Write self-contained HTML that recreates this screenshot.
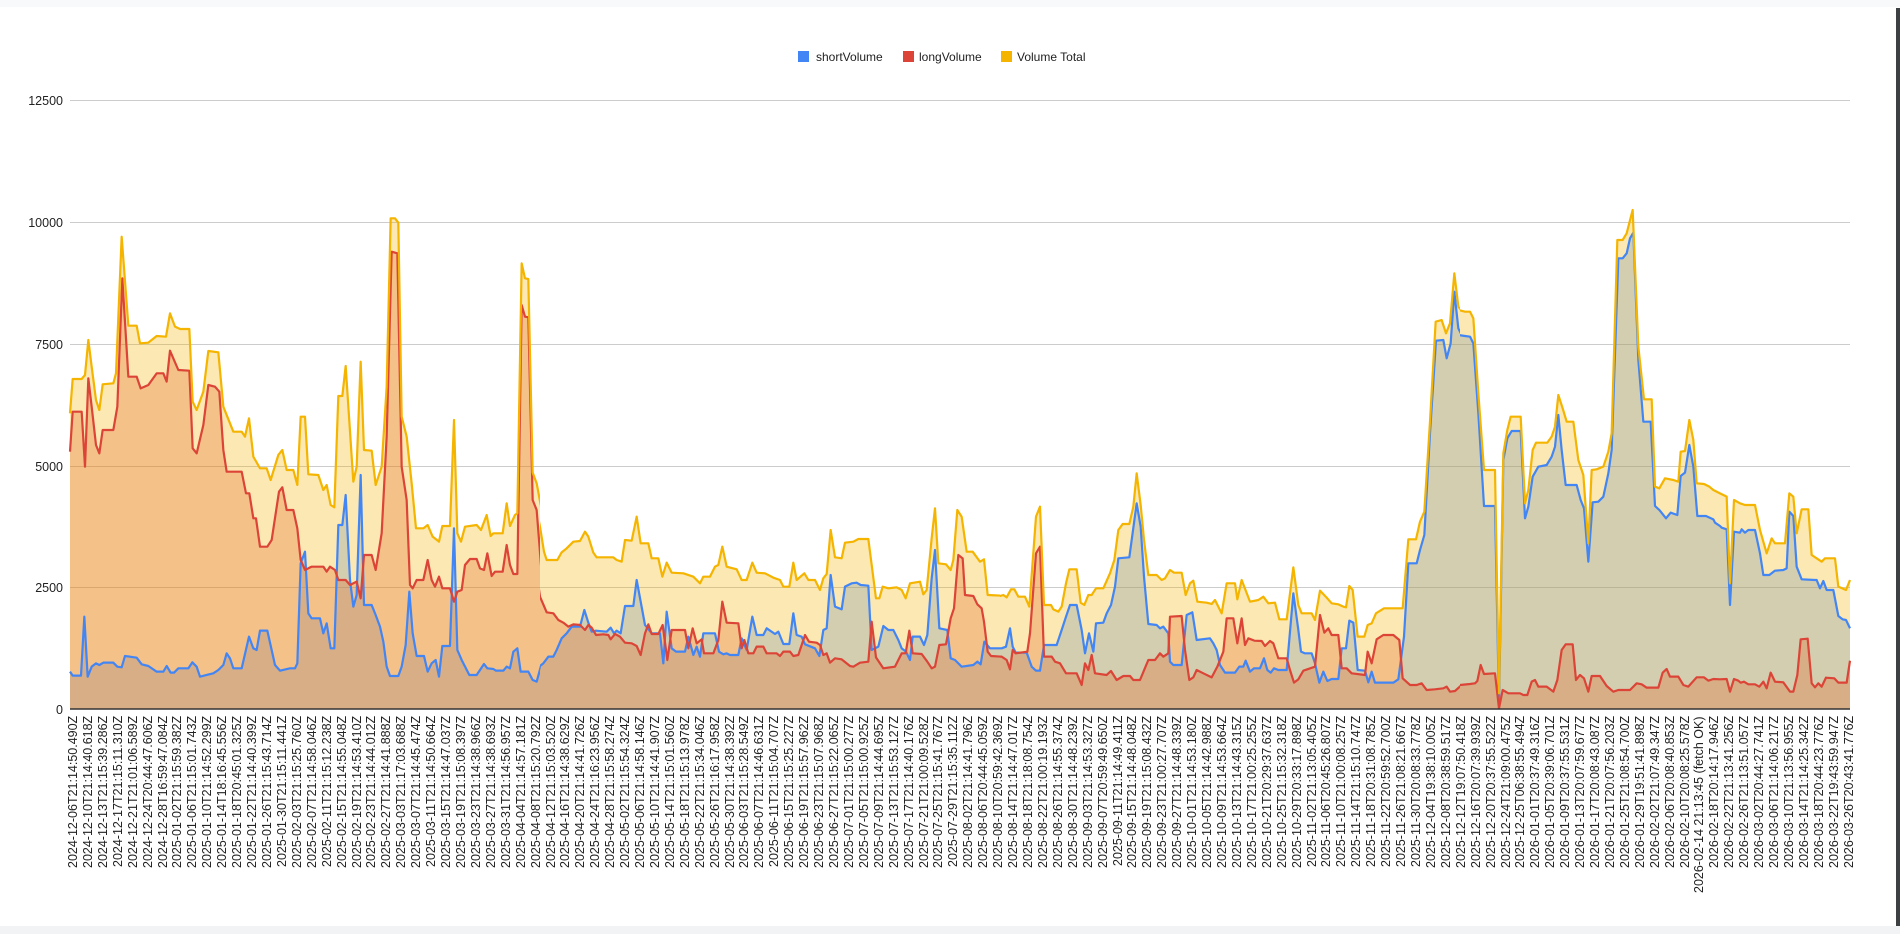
<!DOCTYPE html>
<html><head><meta charset="utf-8"><style>
html,body{margin:0;padding:0;background:#fff;width:1900px;height:934px;overflow:hidden;font-family:"Liberation Sans",Arial,sans-serif;}
#lab{position:absolute;left:66px;top:716px;width:1791px;height:200px;display:flex;justify-content:space-between;}
#lab div{width:14px;height:200px;writing-mode:vertical-rl;transform:rotate(180deg);text-align:end;font-size:12.5px;line-height:14px;color:#222;white-space:nowrap;}
</style></head><body>
<svg width="1900" height="934" style="position:absolute;left:0;top:0" xmlns="http://www.w3.org/2000/svg">
<defs>
<clipPath id="c3"><rect x="60" y="0" width="480" height="710"/></clipPath>
<clipPath id="c4"><rect x="540" y="0" width="460" height="710"/></clipPath>
<clipPath id="c5"><rect x="1000" y="0" width="460" height="710"/></clipPath>
<clipPath id="c6"><rect x="1460" y="0" width="391" height="710"/></clipPath>
</defs>
<rect x="0" y="0" width="1900" height="7" fill="#f8f9fa"/>
<rect x="0" y="926" width="1900" height="8" fill="#f1f3f4"/>
<rect x="1896" y="8" width="4" height="918" fill="#3c4043"/>
<g stroke="#cccccc" stroke-width="1">
<line x1="70" x2="1850" y1="100.5" y2="100.5"/><line x1="70" x2="1850" y1="222.5" y2="222.5"/>
<line x1="70" x2="1850" y1="344.5" y2="344.5"/><line x1="70" x2="1850" y1="466.5" y2="466.5"/>
<line x1="70" x2="1850" y1="587.5" y2="587.5"/></g>
<g font-size="12.5" fill="#222" text-anchor="end" font-family="Liberation Sans, sans-serif">
<text x="63" y="105">12500</text><text x="63" y="227">10000</text><text x="63" y="349">7500</text><text x="63" y="471">5000</text><text x="63" y="592">2500</text><text x="63" y="714">0</text></g>
<g font-size="12" fill="#222" font-family="Liberation Sans, sans-serif">
<rect x="798" y="51" width="11" height="11" fill="#4285f4"/><text x="816" y="61">shortVolume</text>
<rect x="903" y="51" width="11" height="11" fill="#db4437"/><text x="919" y="61">longVolume</text>
<rect x="1001" y="51" width="11" height="11" fill="#f4b400"/><text x="1017" y="61">Volume Total</text></g>

<!-- chunk 3 -->
<g clip-path="url(#c3)"><g transform="translate(60,200) scale(0.33333)">
<path fill="#4285f4" fill-opacity="0.3" d="M30,1527 L30,1415 38,1427 63,1427 73,1250 83,1430 95,1400 108,1390 118,1395 130,1388 160,1388 172,1400 185,1402 195,1368 230,1373 245,1393 265,1398 290,1415 310,1415 320,1398 332,1418 342,1418 355,1405 385,1405 397,1387 410,1400 420,1430 440,1425 460,1420 475,1410 490,1395 500,1360 510,1375 520,1405 545,1405 567,1310 580,1345 590,1350 600,1292 622,1292 645,1395 660,1412 690,1405 705,1405 712,1390 722,1090 735,1055 745,1240 755,1255 780,1255 790,1300 800,1270 812,1345 823,1345 835,975 847,975 857,885 870,1140 880,1220 890,1185 902,825 912,1215 935,1215 947,1245 960,1280 970,1325 980,1400 990,1428 1015,1428 1025,1400 1037,1335 1048,1175 1058,1300 1070,1368 1092,1368 1103,1415 1115,1390 1127,1380 1137,1430 1147,1338 1170,1338 1182,985 1192,1350 1205,1380 1228,1425 1250,1425 1272,1392 1282,1405 1300,1407 1308,1412 1330,1412 1340,1400 1350,1405 1360,1355 1372,1345 1382,1415 1405,1415 1418,1440 1430,1445 1445,1390 L1445,1527 Z"/>
<path fill="#db4437" fill-opacity="0.3" d="M30,1527 L30,755 38,635 65,635 75,800 85,535 95,620 108,735 118,760 128,690 160,690 172,620 187,235 205,530 230,530 242,565 265,555 290,520 310,520 320,545 330,452 355,510 388,512 398,745 410,760 430,675 445,555 465,560 478,575 490,750 500,815 545,815 558,880 568,880 580,955 588,955 600,1040 622,1040 635,1020 657,875 667,862 680,930 700,930 712,985 722,1080 735,1110 755,1100 790,1100 800,1115 810,1100 825,1110 835,1140 857,1140 870,1155 890,1145 902,1195 912,1065 935,1065 947,1110 965,1000 980,710 995,155 1012,160 1025,800 1040,900 1050,1155 1058,1165 1070,1140 1090,1140 1103,1080 1115,1140 1125,1160 1137,1130 1147,1165 1170,1165 1182,1205 1192,1175 1205,1170 1215,1095 1230,1077 1250,1077 1260,1105 1272,1110 1282,1060 1295,1128 1305,1115 1328,1115 1340,1035 1350,1095 1360,1122 1372,1122 1385,315 1395,350 1405,352 1418,900 1430,930 1445,1120 L1445,1527 Z"/>
<path fill="#f4b400" fill-opacity="0.3" d="M30,1527 L30,640 38,537 65,537 75,525 85,420 95,500 108,600 118,630 128,553 160,550 168,520 185,110 205,377 230,377 240,430 265,428 290,408 318,410 330,340 345,380 360,387 388,387 398,605 410,630 430,575 445,453 475,457 490,620 520,695 545,695 555,710 567,655 580,770 600,805 620,805 632,840 655,765 667,750 680,810 700,810 712,855 722,650 735,650 745,823 775,825 790,870 800,855 812,915 823,922 835,588 847,588 857,498 880,845 890,800 902,485 912,750 935,752 947,855 965,800 980,560 992,55 1005,55 1015,68 1025,650 1040,710 1055,850 1068,985 1090,985 1103,975 1118,1010 1137,1025 1147,978 1170,978 1182,660 1192,1000 1203,1025 1215,980 1250,975 1263,990 1280,945 1292,1008 1300,1000 1328,1000 1340,910 1350,978 1365,945 1372,940 1385,190 1395,235 1405,237 1418,818 1430,850 1445,930 L1445,1527 Z"/>
<g fill="none" stroke-width="2.2" vector-effect="non-scaling-stroke" stroke-linejoin="round">
<polyline vector-effect="non-scaling-stroke" stroke="#4285f4" points="30,1415 38,1427 63,1427 73,1250 83,1430 95,1400 108,1390 118,1395 130,1388 160,1388 172,1400 185,1402 195,1368 230,1373 245,1393 265,1398 290,1415 310,1415 320,1398 332,1418 342,1418 355,1405 385,1405 397,1387 410,1400 420,1430 440,1425 460,1420 475,1410 490,1395 500,1360 510,1375 520,1405 545,1405 567,1310 580,1345 590,1350 600,1292 622,1292 645,1395 660,1412 690,1405 705,1405 712,1390 722,1090 735,1055 745,1240 755,1255 780,1255 790,1300 800,1270 812,1345 823,1345 835,975 847,975 857,885 870,1140 880,1220 890,1185 902,825 912,1215 935,1215 947,1245 960,1280 970,1325 980,1400 990,1428 1015,1428 1025,1400 1037,1335 1048,1175 1058,1300 1070,1368 1092,1368 1103,1415 1115,1390 1127,1380 1137,1430 1147,1338 1170,1338 1182,985 1192,1350 1205,1380 1228,1425 1250,1425 1272,1392 1282,1405 1300,1407 1308,1412 1330,1412 1340,1400 1350,1405 1360,1355 1372,1345 1382,1415 1405,1415 1418,1440 1430,1445 1445,1390"/>
<polyline vector-effect="non-scaling-stroke" stroke="#db4437" points="30,755 38,635 65,635 75,800 85,535 95,620 108,735 118,760 128,690 160,690 172,620 187,235 205,530 230,530 242,565 265,555 290,520 310,520 320,545 330,452 355,510 388,512 398,745 410,760 430,675 445,555 465,560 478,575 490,750 500,815 545,815 558,880 568,880 580,955 588,955 600,1040 622,1040 635,1020 657,875 667,862 680,930 700,930 712,985 722,1080 735,1110 755,1100 790,1100 800,1115 810,1100 825,1110 835,1140 857,1140 870,1155 890,1145 902,1195 912,1065 935,1065 947,1110 965,1000 980,710 995,155 1012,160 1025,800 1040,900 1050,1155 1058,1165 1070,1140 1090,1140 1103,1080 1115,1140 1125,1160 1137,1130 1147,1165 1170,1165 1182,1205 1192,1175 1205,1170 1215,1095 1230,1077 1250,1077 1260,1105 1272,1110 1282,1060 1295,1128 1305,1115 1328,1115 1340,1035 1350,1095 1360,1122 1372,1122 1385,315 1395,350 1405,352 1418,900 1430,930 1445,1120"/>
<polyline vector-effect="non-scaling-stroke" stroke="#f4b400" points="30,640 38,537 65,537 75,525 85,420 95,500 108,600 118,630 128,553 160,550 168,520 185,110 205,377 230,377 240,430 265,428 290,408 318,410 330,340 345,380 360,387 388,387 398,605 410,630 430,575 445,453 475,457 490,620 520,695 545,695 555,710 567,655 580,770 600,805 620,805 632,840 655,765 667,750 680,810 700,810 712,855 722,650 735,650 745,823 775,825 790,870 800,855 812,915 823,922 835,588 847,588 857,498 880,845 890,800 902,485 912,750 935,752 947,855 965,800 980,560 992,55 1005,55 1015,68 1025,650 1040,710 1055,850 1068,985 1090,985 1103,975 1118,1010 1137,1025 1147,978 1170,978 1182,660 1192,1000 1203,1025 1215,980 1250,975 1263,990 1280,945 1292,1008 1300,1000 1328,1000 1340,910 1350,978 1365,945 1372,940 1385,190 1395,235 1405,237 1418,818 1430,850 1445,930"/>
</g></g></g>

<!-- chunk 4 -->
<g clip-path="url(#c4)"><g transform="translate(520,200) scale(0.33333)">
<path fill="#4285f4" fill-opacity="0.3" d="M50,1527 L50,1440 60,1398 70,1390 85,1370 100,1370 110,1350 125,1315 140,1300 155,1280 180,1280 193,1230 205,1268 215,1295 228,1292 260,1295 272,1283 282,1300 290,1292 302,1300 315,1218 340,1218 350,1140 375,1275 395,1300 420,1300 430,1390 440,1235 455,1345 468,1355 495,1355 505,1310 520,1365 530,1340 540,1370 550,1300 585,1300 597,1355 610,1363 620,1360 630,1365 655,1365 665,1315 680,1350 697,1250 710,1305 730,1305 740,1285 765,1302 775,1295 790,1332 808,1332 820,1240 830,1305 845,1310 855,1333 885,1345 898,1368 910,1290 920,1285 932,1125 945,1220 965,1228 975,1160 995,1150 1010,1148 1022,1155 1045,1157 1055,1350 1075,1340 1090,1278 1105,1290 1120,1290 1135,1320 1145,1345 1158,1355 1170,1380 1178,1310 1200,1310 1212,1335 1222,1305 1235,1135 1245,1050 1258,1285 1282,1290 1292,1375 1305,1380 1325,1400 1360,1395 1372,1385 1382,1393 1393,1325 1410,1345 1445,1345 L1445,1527 Z"/>
<path fill="#db4437" fill-opacity="0.3" d="M50,1527 L50,1120 60,1190 80,1237 100,1240 115,1260 130,1268 145,1280 160,1273 180,1275 195,1290 205,1275 215,1283 228,1305 250,1303 265,1305 272,1318 285,1302 300,1310 315,1328 335,1330 350,1338 362,1365 375,1300 385,1273 395,1302 415,1302 428,1275 442,1380 455,1290 495,1290 505,1345 518,1285 530,1330 545,1318 552,1360 580,1360 595,1320 607,1205 620,1268 655,1270 665,1345 673,1320 685,1360 700,1360 710,1340 730,1340 740,1360 770,1360 780,1368 790,1355 810,1355 820,1368 835,1365 855,1305 867,1325 890,1328 900,1335 910,1365 920,1360 930,1388 945,1375 965,1378 990,1398 1000,1400 1020,1388 1045,1385 1055,1265 1068,1372 1090,1405 1125,1400 1145,1360 1157,1360 1168,1292 1178,1360 1205,1362 1222,1385 1235,1405 1245,1400 1258,1335 1278,1333 1292,1255 1302,1225 1315,1065 1328,1075 1335,1185 1360,1188 1372,1213 1385,1225 1392,1265 1403,1355 1413,1368 1445,1370 L1445,1527 Z"/>
<path fill="#f4b400" fill-opacity="0.3" d="M50,1527 L50,930 60,980 72,1055 80,1080 112,1080 125,1057 140,1045 160,1025 180,1023 195,995 205,1010 220,1058 230,1072 280,1072 290,1080 305,1085 315,1020 335,1022 350,950 362,1030 385,1030 395,1075 415,1075 427,1130 440,1088 455,1118 490,1120 520,1130 540,1150 550,1130 570,1130 585,1100 595,1095 607,1040 620,1100 650,1108 665,1140 680,1140 697,1088 710,1118 735,1120 760,1133 780,1140 790,1160 808,1160 820,1088 830,1140 853,1120 865,1140 885,1140 900,1170 910,1135 920,1122 932,990 945,1072 965,1075 975,1028 1000,1025 1015,1017 1045,1017 1068,1195 1078,1195 1088,1160 1105,1165 1130,1162 1145,1170 1157,1195 1170,1150 1200,1145 1210,1183 1220,1170 1235,1015 1245,925 1255,1090 1278,1093 1292,1110 1300,1080 1312,930 1325,950 1340,1055 1358,1055 1380,1085 1392,1078 1403,1185 1445,1187 L1445,1527 Z"/>
<g fill="none" stroke-width="2.2" stroke-linejoin="round">
<polyline vector-effect="non-scaling-stroke" stroke="#4285f4" points="50,1440 60,1398 70,1390 85,1370 100,1370 110,1350 125,1315 140,1300 155,1280 180,1280 193,1230 205,1268 215,1295 228,1292 260,1295 272,1283 282,1300 290,1292 302,1300 315,1218 340,1218 350,1140 375,1275 395,1300 420,1300 430,1390 440,1235 455,1345 468,1355 495,1355 505,1310 520,1365 530,1340 540,1370 550,1300 585,1300 597,1355 610,1363 620,1360 630,1365 655,1365 665,1315 680,1350 697,1250 710,1305 730,1305 740,1285 765,1302 775,1295 790,1332 808,1332 820,1240 830,1305 845,1310 855,1333 885,1345 898,1368 910,1290 920,1285 932,1125 945,1220 965,1228 975,1160 995,1150 1010,1148 1022,1155 1045,1157 1055,1350 1075,1340 1090,1278 1105,1290 1120,1290 1135,1320 1145,1345 1158,1355 1170,1380 1178,1310 1200,1310 1212,1335 1222,1305 1235,1135 1245,1050 1258,1285 1282,1290 1292,1375 1305,1380 1325,1400 1360,1395 1372,1385 1382,1393 1393,1325 1410,1345 1445,1345"/>
<polyline vector-effect="non-scaling-stroke" stroke="#db4437" points="50,1120 60,1190 80,1237 100,1240 115,1260 130,1268 145,1280 160,1273 180,1275 195,1290 205,1275 215,1283 228,1305 250,1303 265,1305 272,1318 285,1302 300,1310 315,1328 335,1330 350,1338 362,1365 375,1300 385,1273 395,1302 415,1302 428,1275 442,1380 455,1290 495,1290 505,1345 518,1285 530,1330 545,1318 552,1360 580,1360 595,1320 607,1205 620,1268 655,1270 665,1345 673,1320 685,1360 700,1360 710,1340 730,1340 740,1360 770,1360 780,1368 790,1355 810,1355 820,1368 835,1365 855,1305 867,1325 890,1328 900,1335 910,1365 920,1360 930,1388 945,1375 965,1378 990,1398 1000,1400 1020,1388 1045,1385 1055,1265 1068,1372 1090,1405 1125,1400 1145,1360 1157,1360 1168,1292 1178,1360 1205,1362 1222,1385 1235,1405 1245,1400 1258,1335 1278,1333 1292,1255 1302,1225 1315,1065 1328,1075 1335,1185 1360,1188 1372,1213 1385,1225 1392,1265 1403,1355 1413,1368 1445,1370"/>
<polyline vector-effect="non-scaling-stroke" stroke="#f4b400" points="50,930 60,980 72,1055 80,1080 112,1080 125,1057 140,1045 160,1025 180,1023 195,995 205,1010 220,1058 230,1072 280,1072 290,1080 305,1085 315,1020 335,1022 350,950 362,1030 385,1030 395,1075 415,1075 427,1130 440,1088 455,1118 490,1120 520,1130 540,1150 550,1130 570,1130 585,1100 595,1095 607,1040 620,1100 650,1108 665,1140 680,1140 697,1088 710,1118 735,1120 760,1133 780,1140 790,1160 808,1160 820,1088 830,1140 853,1120 865,1140 885,1140 900,1170 910,1135 920,1122 932,990 945,1072 965,1075 975,1028 1000,1025 1015,1017 1045,1017 1068,1195 1078,1195 1088,1160 1105,1165 1130,1162 1145,1170 1157,1195 1170,1150 1200,1145 1210,1183 1220,1170 1235,1015 1245,925 1255,1090 1278,1093 1292,1110 1300,1080 1312,930 1325,950 1340,1055 1358,1055 1380,1085 1392,1078 1403,1185 1445,1187"/>
</g></g></g>

<!-- chunk 5 -->
<g clip-path="url(#c5)"><g transform="translate(980,200) scale(0.33333)">
<path fill="#4285f4" fill-opacity="0.3" d="M0,1527 L0,1395 12,1325 22,1360 35,1345 65,1345 78,1340 90,1285 98,1340 107,1358 140,1358 155,1400 168,1412 180,1412 192,1335 230,1335 245,1290 258,1250 270,1215 290,1215 305,1290 315,1360 327,1300 340,1355 348,1270 370,1268 380,1240 393,1215 405,1160 415,1075 448,1072 470,910 482,980 492,1130 505,1272 530,1275 540,1285 550,1280 565,1300 570,1385 580,1395 605,1395 620,1245 637,1237 650,1320 690,1315 700,1330 710,1350 720,1395 735,1418 765,1418 778,1400 790,1400 797,1382 810,1415 822,1405 840,1405 852,1375 862,1410 872,1418 882,1405 895,1410 920,1410 940,1180 955,1290 963,1355 975,1360 995,1360 1005,1390 1018,1448 1030,1415 1042,1443 1055,1437 1075,1437 1085,1345 1098,1345 1108,1262 1120,1268 1133,1410 1155,1412 1165,1447 1175,1415 1185,1448 1240,1448 1255,1438 1272,1310 1285,1090 1310,1090 1320,1050 1333,1005 1350,700 1368,422 1390,420 1400,475 1412,430 1423,275 1435,385 1445,405 L1445,1527 Z"/>
<path fill="#db4437" fill-opacity="0.3" d="M0,1527 L0,1220 12,1290 22,1355 35,1370 65,1370 80,1380 90,1408 98,1350 107,1360 142,1355 150,1300 168,1060 180,1040 192,1370 215,1370 225,1385 240,1390 258,1420 290,1420 305,1455 315,1390 325,1410 335,1365 345,1420 380,1425 393,1413 410,1440 430,1428 450,1428 460,1440 480,1440 505,1380 525,1380 540,1360 550,1370 565,1360 570,1250 605,1248 615,1350 628,1440 640,1432 650,1410 670,1420 695,1432 712,1400 730,1355 740,1255 760,1255 772,1330 785,1255 795,1335 805,1315 823,1322 845,1323 855,1338 870,1323 880,1330 895,1375 920,1375 930,1410 942,1448 955,1438 970,1412 1005,1400 1020,1245 1033,1298 1045,1285 1055,1305 1075,1305 1085,1405 1100,1405 1115,1420 1155,1425 1163,1355 1175,1390 1190,1318 1210,1305 1240,1305 1258,1320 1268,1435 1290,1455 1310,1455 1325,1450 1340,1470 1365,1468 1390,1465 1400,1460 1410,1475 1425,1473 1445,1455 L1445,1527 Z"/>
<path fill="#f4b400" fill-opacity="0.3" d="M0,1527 L0,1085 12,1078 22,1188 60,1188 70,1185 80,1192 93,1168 103,1168 115,1190 135,1190 148,1220 168,950 180,920 192,1215 213,1215 220,1228 235,1235 245,1220 258,1150 268,1108 290,1108 302,1208 313,1215 325,1185 335,1185 348,1165 370,1165 390,1120 403,1080 415,990 428,972 448,972 460,920 470,820 482,915 492,1020 505,1125 530,1125 545,1140 555,1135 570,1110 582,1118 605,1118 617,1185 630,1150 640,1142 652,1205 680,1208 695,1212 705,1200 725,1240 740,1150 765,1150 772,1198 785,1140 810,1205 835,1200 850,1190 865,1210 885,1208 898,1258 920,1258 940,1102 955,1215 965,1240 995,1240 1005,1260 1020,1172 1040,1193 1055,1210 1075,1213 1090,1220 1098,1222 1108,1158 1118,1170 1133,1310 1153,1310 1163,1275 1175,1270 1188,1240 1212,1225 1268,1225 1285,1018 1308,1018 1320,965 1333,935 1350,665 1367,365 1385,360 1398,400 1410,370 1423,220 1435,320 1445,332 L1445,1527 Z"/>
<g fill="none" stroke-width="2.2" stroke-linejoin="round">
<polyline vector-effect="non-scaling-stroke" stroke="#4285f4" points="0,1395 12,1325 22,1360 35,1345 65,1345 78,1340 90,1285 98,1340 107,1358 140,1358 155,1400 168,1412 180,1412 192,1335 230,1335 245,1290 258,1250 270,1215 290,1215 305,1290 315,1360 327,1300 340,1355 348,1270 370,1268 380,1240 393,1215 405,1160 415,1075 448,1072 470,910 482,980 492,1130 505,1272 530,1275 540,1285 550,1280 565,1300 570,1385 580,1395 605,1395 620,1245 637,1237 650,1320 690,1315 700,1330 710,1350 720,1395 735,1418 765,1418 778,1400 790,1400 797,1382 810,1415 822,1405 840,1405 852,1375 862,1410 872,1418 882,1405 895,1410 920,1410 940,1180 955,1290 963,1355 975,1360 995,1360 1005,1390 1018,1448 1030,1415 1042,1443 1055,1437 1075,1437 1085,1345 1098,1345 1108,1262 1120,1268 1133,1410 1155,1412 1165,1447 1175,1415 1185,1448 1240,1448 1255,1438 1272,1310 1285,1090 1310,1090 1320,1050 1333,1005 1350,700 1368,422 1390,420 1400,475 1412,430 1423,275 1435,385 1445,405"/>
<polyline vector-effect="non-scaling-stroke" stroke="#db4437" points="0,1220 12,1290 22,1355 35,1370 65,1370 80,1380 90,1408 98,1350 107,1360 142,1355 150,1300 168,1060 180,1040 192,1370 215,1370 225,1385 240,1390 258,1420 290,1420 305,1455 315,1390 325,1410 335,1365 345,1420 380,1425 393,1413 410,1440 430,1428 450,1428 460,1440 480,1440 505,1380 525,1380 540,1360 550,1370 565,1360 570,1250 605,1248 615,1350 628,1440 640,1432 650,1410 670,1420 695,1432 712,1400 730,1355 740,1255 760,1255 772,1330 785,1255 795,1335 805,1315 823,1322 845,1323 855,1338 870,1323 880,1330 895,1375 920,1375 930,1410 942,1448 955,1438 970,1412 1005,1400 1020,1245 1033,1298 1045,1285 1055,1305 1075,1305 1085,1405 1100,1405 1115,1420 1155,1425 1163,1355 1175,1390 1190,1318 1210,1305 1240,1305 1258,1320 1268,1435 1290,1455 1310,1455 1325,1450 1340,1470 1365,1468 1390,1465 1400,1460 1410,1475 1425,1473 1445,1455"/>
<polyline vector-effect="non-scaling-stroke" stroke="#f4b400" points="0,1085 12,1078 22,1188 60,1188 70,1185 80,1192 93,1168 103,1168 115,1190 135,1190 148,1220 168,950 180,920 192,1215 213,1215 220,1228 235,1235 245,1220 258,1150 268,1108 290,1108 302,1208 313,1215 325,1185 335,1185 348,1165 370,1165 390,1120 403,1080 415,990 428,972 448,972 460,920 470,820 482,915 492,1020 505,1125 530,1125 545,1140 555,1135 570,1110 582,1118 605,1118 617,1185 630,1150 640,1142 652,1205 680,1208 695,1212 705,1200 725,1240 740,1150 765,1150 772,1198 785,1140 810,1205 835,1200 850,1190 865,1210 885,1208 898,1258 920,1258 940,1102 955,1215 965,1240 995,1240 1005,1260 1020,1172 1040,1193 1055,1210 1075,1213 1090,1220 1098,1222 1108,1158 1118,1170 1133,1310 1153,1310 1163,1275 1175,1270 1188,1240 1212,1225 1268,1225 1285,1018 1308,1018 1320,965 1333,935 1350,665 1367,365 1385,360 1398,400 1410,370 1423,220 1435,320 1445,332"/>
</g></g></g>

<!-- chunk 6 -->
<g clip-path="url(#c6)"><g transform="translate(1420,200) scale(0.33333)">
<path fill="#4285f4" fill-opacity="0.3" d="M115,1527 L115,405 135,408 150,410 160,430 175,640 192,918 225,918 237,1515 250,780 262,715 275,693 302,693 315,955 325,920 338,830 355,800 380,795 395,770 405,740 415,645 425,750 437,855 470,855 482,900 492,925 505,1085 518,907 535,905 550,890 565,820 575,750 595,175 608,175 620,160 630,115 640,98 655,480 670,665 692,665 705,918 718,930 738,955 752,938 772,945 782,828 795,818 808,735 820,800 832,948 858,948 880,958 885,968 900,978 905,983 920,988 930,1215 942,995 960,998 965,988 975,998 985,990 1005,990 1020,1060 1030,1125 1048,1125 1065,1112 1090,1110 1100,1105 1108,935 1120,948 1130,1100 1145,1138 1185,1140 1190,1140 1200,1165 1210,1143 1220,1170 1240,1170 1255,1248 1268,1258 1278,1260 1290,1285 L1290,1527 Z"/>
<path fill="#db4437" fill-opacity="0.3" d="M0,1527 L0,1465 30,1470 70,1465 80,1460 90,1475 100,1475 120,1455 150,1452 165,1450 172,1443 182,1395 192,1422 225,1420 237,1525 248,1470 265,1480 300,1480 310,1485 322,1485 335,1445 345,1440 355,1460 380,1460 400,1475 412,1440 425,1350 437,1333 458,1333 468,1440 480,1425 492,1435 505,1475 515,1428 540,1428 560,1458 580,1475 595,1470 630,1470 650,1450 665,1453 680,1463 715,1463 728,1418 740,1407 750,1430 775,1430 790,1455 805,1460 830,1432 852,1432 865,1442 880,1437 900,1438 920,1437 930,1475 942,1437 955,1442 962,1448 972,1445 985,1453 1005,1453 1018,1460 1030,1445 1040,1465 1052,1418 1065,1445 1090,1447 1110,1475 1120,1475 1132,1425 1142,1318 1163,1316 1175,1450 1185,1462 1195,1450 1205,1460 1218,1433 1243,1435 1255,1448 1280,1448 1290,1382 L1290,1527 Z"/>
<path fill="#f4b400" fill-opacity="0.3" d="M115,1527 L115,330 135,335 150,335 160,355 175,580 192,810 225,810 237,1480 250,760 262,690 272,650 302,650 315,910 325,870 338,750 348,728 382,728 395,710 405,680 415,585 428,625 440,665 460,665 475,780 490,825 505,1030 515,810 530,808 550,800 565,755 575,700 592,120 608,120 620,100 638,30 655,440 672,598 695,598 705,860 718,865 735,835 760,840 775,845 782,755 795,753 808,660 820,720 830,850 852,852 868,860 880,870 900,880 920,890 930,1150 942,900 960,910 975,915 1005,915 1020,990 1040,1060 1055,1015 1065,1030 1095,1030 1108,880 1120,890 1130,1000 1145,928 1165,928 1175,1065 1190,1075 1205,1085 1215,1075 1245,1075 1255,1160 1278,1170 1290,1140 L1290,1527 Z"/>
<g fill="none" stroke-width="2.2" stroke-linejoin="round">
<polyline vector-effect="non-scaling-stroke" stroke="#4285f4" points="115,405 135,408 150,410 160,430 175,640 192,918 225,918 237,1515 250,780 262,715 275,693 302,693 315,955 325,920 338,830 355,800 380,795 395,770 405,740 415,645 425,750 437,855 470,855 482,900 492,925 505,1085 518,907 535,905 550,890 565,820 575,750 595,175 608,175 620,160 630,115 640,98 655,480 670,665 692,665 705,918 718,930 738,955 752,938 772,945 782,828 795,818 808,735 820,800 832,948 858,948 880,958 885,968 900,978 905,983 920,988 930,1215 942,995 960,998 965,988 975,998 985,990 1005,990 1020,1060 1030,1125 1048,1125 1065,1112 1090,1110 1100,1105 1108,935 1120,948 1130,1100 1145,1138 1185,1140 1190,1140 1200,1165 1210,1143 1220,1170 1240,1170 1255,1248 1268,1258 1278,1260 1290,1285"/>
<polyline vector-effect="non-scaling-stroke" stroke="#db4437" points="0,1465 30,1470 70,1465 80,1460 90,1475 100,1475 120,1455 150,1452 165,1450 172,1443 182,1395 192,1422 225,1420 237,1525 248,1470 265,1480 300,1480 310,1485 322,1485 335,1445 345,1440 355,1460 380,1460 400,1475 412,1440 425,1350 437,1333 458,1333 468,1440 480,1425 492,1435 505,1475 515,1428 540,1428 560,1458 580,1475 595,1470 630,1470 650,1450 665,1453 680,1463 715,1463 728,1418 740,1407 750,1430 775,1430 790,1455 805,1460 830,1432 852,1432 865,1442 880,1437 900,1438 920,1437 930,1475 942,1437 955,1442 962,1448 972,1445 985,1453 1005,1453 1018,1460 1030,1445 1040,1465 1052,1418 1065,1445 1090,1447 1110,1475 1120,1475 1132,1425 1142,1318 1163,1316 1175,1450 1185,1462 1195,1450 1205,1460 1218,1433 1243,1435 1255,1448 1280,1448 1290,1382"/>
<polyline vector-effect="non-scaling-stroke" stroke="#f4b400" points="115,330 135,335 150,335 160,355 175,580 192,810 225,810 237,1480 250,760 262,690 272,650 302,650 315,910 325,870 338,750 348,728 382,728 395,710 405,680 415,585 428,625 440,665 460,665 475,780 490,825 505,1030 515,810 530,808 550,800 565,755 575,700 592,120 608,120 620,100 638,30 655,440 672,598 695,598 705,860 718,865 735,835 760,840 775,845 782,755 795,753 808,660 820,720 830,850 852,852 868,860 880,870 900,880 920,890 930,1150 942,900 960,910 975,915 1005,915 1020,990 1040,1060 1055,1015 1065,1030 1095,1030 1108,880 1120,890 1130,1000 1145,928 1165,928 1175,1065 1190,1075 1205,1085 1215,1075 1245,1075 1255,1160 1278,1170 1290,1140"/>
</g></g></g>
<line x1="70" x2="1850" y1="709" y2="709" stroke="#333" stroke-width="1.5"/>
</svg>
<div id="lab">
<div>2024-12-06T21:14:50.490Z</div><div>2024-12-10T21:14:40.618Z</div><div>2024-12-13T21:15:39.286Z</div><div>2024-12-17T21:15:11.310Z</div><div>2024-12-21T21:01:06.589Z</div><div>2024-12-24T20:44:47.606Z</div><div>2024-12-28T16:59:47.084Z</div><div>2025-01-02T21:15:59.382Z</div><div>2025-01-06T21:15:01.743Z</div><div>2025-01-10T21:14:52.299Z</div><div>2025-01-14T18:16:45.556Z</div><div>2025-01-18T20:45:01.325Z</div><div>2025-01-22T21:14:40.399Z</div><div>2025-01-26T21:15:43.714Z</div><div>2025-01-30T21:15:11.441Z</div><div>2025-02-03T21:15:25.760Z</div><div>2025-02-07T21:14:58.046Z</div><div>2025-02-11T21:15:12.238Z</div><div>2025-02-15T21:14:55.048Z</div><div>2025-02-19T21:14:53.410Z</div><div>2025-02-23T21:14:44.012Z</div><div>2025-02-27T21:14:41.888Z</div><div>2025-03-03T21:17:03.688Z</div><div>2025-03-07T21:14:45.474Z</div><div>2025-03-11T21:14:50.664Z</div><div>2025-03-15T21:14:47.037Z</div><div>2025-03-19T21:15:08.397Z</div><div>2025-03-23T21:14:38.966Z</div><div>2025-03-27T21:14:38.693Z</div><div>2025-03-31T21:14:56.957Z</div><div>2025-04-04T21:14:57.181Z</div><div>2025-04-08T21:15:20.792Z</div><div>2025-04-12T21:15:03.520Z</div><div>2025-04-16T21:14:38.629Z</div><div>2025-04-20T21:14:41.726Z</div><div>2025-04-24T21:16:23.956Z</div><div>2025-04-28T21:15:58.274Z</div><div>2025-05-02T21:15:54.324Z</div><div>2025-05-06T21:14:58.146Z</div><div>2025-05-10T21:14:41.907Z</div><div>2025-05-14T21:15:01.560Z</div><div>2025-05-18T21:15:13.978Z</div><div>2025-05-22T21:15:34.046Z</div><div>2025-05-26T21:16:17.958Z</div><div>2025-05-30T21:14:38.392Z</div><div>2025-06-03T21:15:28.549Z</div><div>2025-06-07T21:14:46.631Z</div><div>2025-06-11T21:15:04.707Z</div><div>2025-06-15T21:15:25.227Z</div><div>2025-06-19T21:15:57.962Z</div><div>2025-06-23T21:15:07.968Z</div><div>2025-06-27T21:15:22.065Z</div><div>2025-07-01T21:15:00.277Z</div><div>2025-07-05T21:15:00.925Z</div><div>2025-07-09T21:14:44.695Z</div><div>2025-07-13T21:15:53.127Z</div><div>2025-07-17T21:14:40.176Z</div><div>2025-07-21T21:00:09.528Z</div><div>2025-07-25T21:15:41.767Z</div><div>2025-07-29T21:15:35.112Z</div><div>2025-08-02T21:14:41.796Z</div><div>2025-08-06T20:44:45.059Z</div><div>2025-08-10T20:59:42.369Z</div><div>2025-08-14T21:14:47.017Z</div><div>2025-08-18T21:18:08.754Z</div><div>2025-08-22T21:00:19.193Z</div><div>2025-08-26T21:14:55.374Z</div><div>2025-08-30T21:14:48.239Z</div><div>2025-09-03T21:14:53.327Z</div><div>2025-09-07T20:59:49.650Z</div><div>2025-09-11T21:14:49.411Z</div><div>2025-09-15T21:14:48.048Z</div><div>2025-09-19T21:15:08.432Z</div><div>2025-09-23T21:00:27.707Z</div><div>2025-09-27T21:14:48.339Z</div><div>2025-10-01T21:14:53.180Z</div><div>2025-10-05T21:14:42.988Z</div><div>2025-10-09T21:14:53.664Z</div><div>2025-10-13T21:14:43.315Z</div><div>2025-10-17T21:00:25.255Z</div><div>2025-10-21T20:29:37.637Z</div><div>2025-10-25T21:15:32.318Z</div><div>2025-10-29T20:33:17.898Z</div><div>2025-11-02T21:13:05.405Z</div><div>2025-11-06T20:45:26.807Z</div><div>2025-11-10T21:00:08.257Z</div><div>2025-11-14T21:15:10.747Z</div><div>2025-11-18T20:31:08.785Z</div><div>2025-11-22T20:59:52.700Z</div><div>2025-11-26T21:08:21.667Z</div><div>2025-11-30T20:08:33.778Z</div><div>2025-12-04T19:38:10.005Z</div><div>2025-12-08T20:38:59.517Z</div><div>2025-12-12T19:07:50.418Z</div><div>2025-12-16T20:07:39.939Z</div><div>2025-12-20T20:37:55.522Z</div><div>2025-12-24T21:09:00.475Z</div><div>2025-12-25T06:38:55.494Z</div><div>2026-01-01T20:37:49.316Z</div><div>2026-01-05T20:39:06.701Z</div><div>2026-01-09T20:37:55.531Z</div><div>2026-01-13T20:07:59.677Z</div><div>2026-01-17T20:08:43.087Z</div><div>2026-01-21T20:07:56.203Z</div><div>2026-01-25T21:08:54.700Z</div><div>2026-01-29T19:51:41.898Z</div><div>2026-02-02T21:07:49.347Z</div><div>2026-02-06T20:08:40.853Z</div><div>2026-02-10T20:08:25.578Z</div><div>2026-02-14 21:13:45 (fetch OK)</div><div>2026-02-18T20:14:17.946Z</div><div>2026-02-22T21:13:41.256Z</div><div>2026-02-26T21:13:51.057Z</div><div>2026-03-02T20:44:27.741Z</div><div>2026-03-06T21:14:06.217Z</div><div>2026-03-10T21:13:56.955Z</div><div>2026-03-14T21:14:25.342Z</div><div>2026-03-18T20:44:23.776Z</div><div>2026-03-22T19:43:59.947Z</div><div>2026-03-26T20:43:41.776Z</div>
</div>
</body></html>
